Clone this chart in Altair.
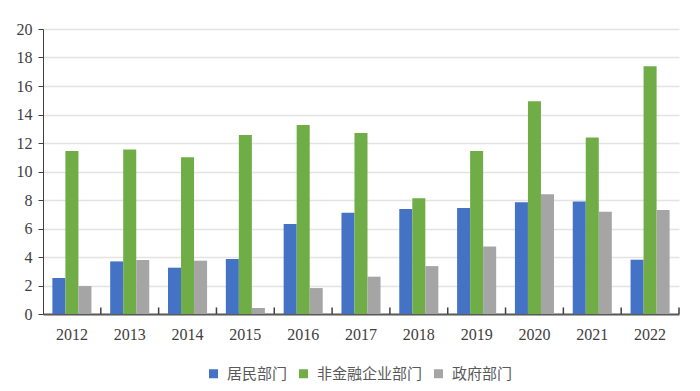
import altair as alt
import pandas as pd

years = ["2012", "2013", "2014", "2015", "2016", "2017", "2018", "2019", "2020", "2021", "2022"]
series = ["居民部门", "非金融企业部门", "政府部门"]
household = [2.52, 3.69, 3.25, 3.86, 6.31, 7.10, 7.36, 7.43, 7.85, 7.90, 3.81]
corporate = [11.43, 11.54, 11.00, 12.57, 13.27, 12.71, 8.13, 11.43, 14.93, 12.38, 17.38]
government = [1.96, 3.79, 3.74, 0.42, 1.82, 2.62, 3.36, 4.74, 8.41, 7.17, 7.29]
colors = ["#4472C4", "#70AD47", "#A5A5A5"]

rows = []
for vals, s in zip([household, corporate, government], series):
    for y, v in zip(years, vals):
        rows.append({"year": y, "series": s, "value": v})
df = pd.DataFrame(rows)
ticks_df = pd.DataFrame({"year": years, "lo": [0.0] * len(years), "hi": [0.46] * len(years)})

x_axis = alt.Axis(labelAngle=0, ticks=False, domainColor="#595959",
                  domainWidth=2,
                  labelFont="Liberation Serif", labelFontSize=16,
                  labelColor="#404040", labelPadding=12, grid=False)
x_scale = alt.Scale(paddingInner=0, paddingOuter=0)
y_axis = alt.Axis(values=list(range(0, 21, 2)), domainColor="#404040",
                  tickColor="#404040", tickSize=5, gridColor="#E3E3E3",
                  gridWidth=1.5, labelFont="Liberation Serif", labelFontSize=16,
                  labelColor="#404040", labelPadding=6, labelOverlap=False)
y_scale = alt.Scale(domain=[0, 20], nice=False)

bars = alt.Chart(df).mark_bar().encode(
    x=alt.X("year:N", sort=years, title=None, scale=x_scale, axis=x_axis),
    xOffset=alt.XOffset("series:N", sort=series,
                        scale=alt.Scale(paddingInner=0, paddingOuter=0.72)),
    y=alt.Y("value:Q", title=None, scale=y_scale, axis=y_axis),
    color=alt.Color("series:N", sort=series,
                    scale=alt.Scale(domain=series, range=colors),
                    legend=alt.Legend(title=None, orient="none", direction="horizontal",
                                      legendX=163, legendY=337, symbolType="square",
                                      symbolSize=81, symbolStrokeWidth=0,
                                      labelFont="Noto Sans CJK SC", labelFontSize=15,
                                      labelColor="#595959", columnPadding=8,
                                      labelOffset=6)),
)

tick_marks = alt.Chart(ticks_df).mark_rule(color="#404040", strokeWidth=1.5).encode(
    x=alt.X("year:N", sort=years, title=None, scale=x_scale, axis=x_axis, bandPosition=1),
    y=alt.Y("lo:Q", title=None, scale=y_scale, axis=y_axis),
    y2="hi:Q",
)

chart = alt.layer(bars, tick_marks).properties(
    width=636, height=285,
    padding={"left": 8, "top": 13, "right": 10, "bottom": 5},
).configure_view(stroke=None)

chart.save("out.html", embed_options={"renderer": "svg", "actions": False})
